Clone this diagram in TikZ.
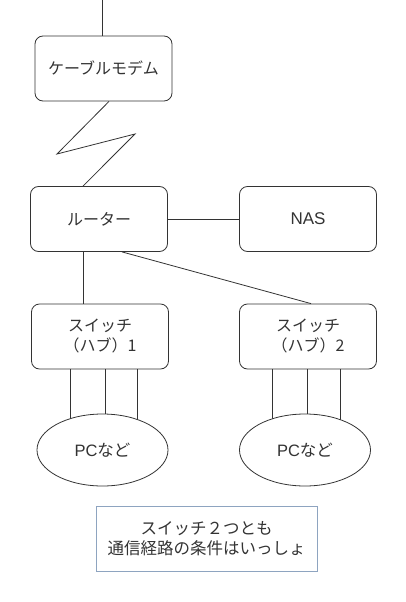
\documentclass[tikz,border=0pt]{standalone}
\usepackage{fontspec}
\setmainfont{Liberation Sans}
\newfontfamily\jp{Noto Sans CJK JP}
\usetikzlibrary{shapes.geometric}
\pgfdeclarelayer{bg}
\pgfsetlayers{bg,main}
\definecolor{ln}{HTML}{333333}
\definecolor{notec}{HTML}{8EA4C0}
\begin{document}
\begin{tikzpicture}[x=1pt,y=-1pt,line width=0.8pt]
\useasboundingbox (0,0) rectangle (405,602);
\tikzset{
  box/.style={draw=ln, rounded corners=8pt, minimum width=137pt, minimum height=65pt,
    inner sep=0pt, align=center, text=ln, font=\jp\fontsize{16}{20}\selectfont},
  pcnode/.style={draw=ln, fill=white, ellipse, minimum width=131pt, minimum height=72pt,
    inner sep=0pt, text=ln, font=\fontsize{16.5}{20}\selectfont},
  notebox/.style={draw=notec, minimum width=221pt, minimum height=65pt, inner sep=0pt,
    align=center, text=ln, font=\jp\fontsize{16.5}{20}\selectfont},
  conn/.style={draw=ln, line width=0.8pt}
}
\node[box] (modem) at (103.5,68.5) {ケーブルモデム};
\node[box] (router) at (99,219) {ルーター};
\node[box, font=\fontsize{17}{20}\selectfont] (nas) at (308,219) {NAS};
\node[box] (sw1) at (100,336.5) {スイッチ\\（ハブ）1};
\node[box] (sw2) at (308,336.5) {スイッチ\\（ハブ）2};
\node[pcnode] (pc1) at (102.5,450) {PC{\jp など}};
\node[pcnode] (pc2) at (305,450) {PC{\jp など}};
\node[notebox] (note) at (206.5,538.5) {スイッチ２つとも\\通信経路の条件はいっしょ};

\coordinate (top) at (102,0);
\coordinate (z1) at (57,154);
\coordinate (z2) at (135,134);

\draw[conn] (top) -- (top |- modem.north);
\draw[conn] ([xshift=5.5pt]modem.south) -- (z1) -- (z2) -- ([xshift=-16pt]router.north);
\draw[conn] (router.east) -- (nas.west);
\draw[conn] ([xshift=-16pt]router.south) -- ([xshift=-16pt]router.south |- sw1.north);
\draw[conn] ([xshift=23pt]router.south) -- ([xshift=3pt]sw2.north);
\begin{pgfonlayer}{bg}
\foreach \dx in {-30,5,37} {
  \draw[conn] ([xshift=\dx pt]sw1.south) -- ([xshift=\dx pt]sw1.south |- pc1.center);
}
\foreach \dx in {-36,-1,32} {
  \draw[conn] ([xshift=\dx pt]sw2.south) -- ([xshift=\dx pt]sw2.south |- pc2.center);
}
\end{pgfonlayer}
\end{tikzpicture}
\end{document}
